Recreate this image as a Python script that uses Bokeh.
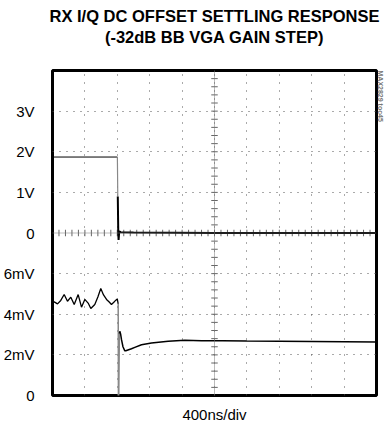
import numpy as np
from bokeh.plotting import figure
from bokeh.models import Range1d, LinearAxis, FixedTicker, Grid, Span, Title
from bokeh.embed import file_html
from bokeh.resources import INLINE

# ---------------- data ----------------
title_line1 = "RX I/Q DC OFFSET SETTLING RESPONSE"
title_line2 = "(-32dB BB VGA GAIN STEP)"
x_label = "400ns/div"
watermark = "MAX2829 toc45"

y_tick_pos = [0, 1, 2, 3, 4, 5, 6, 7]          # screen divisions
y_tick_labels = ["0", "2mV", "4mV", "6mV", "0", "1V", "2V", "3V"]
x_grid_ns = [400, 800, 1200, 1600, 2000, 2400, 2800, 3200, 3600]
y_grid_div = [1, 2, 3, 5, 6, 7]

# upper trace: gain-step control (V), time in ns
ctl_t_high = [0, 799]
ctl_v_high = [1.87, 1.87]
ctl_t_edge = [799, 801, 806]
ctl_v_edge = [1.87, 1.87, 0.90]
ctl_t_low = [806, 812, 816, 824, 840, 1000, 2000, 3000, 4000]
ctl_v_low = [0.90, 0.00, -0.17, 0.04, 0.02, 0.01, 0.00, 0.00, 0.00]

# lower trace: DC offset (mV)
dc_t_pre = [0, 21, 62, 102, 144, 185, 226, 268, 317, 358, 399, 440, 473, 522,
            560, 596, 630, 667, 700, 728, 760, 778, 800, 811]
dc_mv_pre = [4.55, 4.61, 4.51, 4.68, 4.97, 4.64, 4.84, 4.48, 4.97, 4.35, 4.73, 4.55,
             4.28, 4.48, 4.85, 5.27, 4.95, 4.73, 4.60, 4.48, 4.60, 4.68, 4.75, 4.51]
dc_t_edge = [811, 814, 818, 826]
dc_mv_edge = [4.51, 0.0, 0.0, 3.05]
dc_t_post = [826, 831, 842, 852, 870, 893, 905, 940, 975, 1016, 1099, 1222, 1428,
             1633, 1840, 2100, 2400, 2800, 3200, 3600, 4000]
dc_mv_post = [3.05, 3.16, 3.00, 2.75, 2.40, 2.20, 2.20, 2.25, 2.30, 2.37, 2.50, 2.58,
              2.67, 2.72, 2.70, 2.69, 2.68, 2.67, 2.66, 2.65, 2.64]

# ---------------- figure ----------------
FONT = "Liberation Sans"

p = figure(width=385, height=427, output_backend="svg", toolbar_location=None,
           x_range=Range1d(0, 4000), y_range=Range1d(0, 8),
           x_axis_type=None, y_axis_type=None,
           min_border_left=51, min_border_right=9, min_border_top=70, min_border_bottom=32)
p.extra_y_ranges = {"volts": Range1d(-4, 4), "mv": Range1d(0, 16)}
p.outline_line_color = "black"
p.outline_line_width = 3
p.background_fill_color = "white"
p.border_fill_color = "white"


def label_axis(text, standoff, size, style):
    a = LinearAxis(ticker=FixedTicker(ticks=[]), axis_label=text)
    a.axis_line_color = None
    a.major_tick_line_color = None
    a.minor_tick_line_color = None
    a.major_tick_out = 0
    a.major_tick_in = 0
    a.major_label_standoff = 0
    a.major_label_text_font_size = "0px"
    a.axis_label_standoff = standoff
    a.axis_label_text_font = FONT
    a.axis_label_text_font_size = size
    a.axis_label_text_font_style = style
    a.axis_label_text_color = "black"
    return a


# left tick labels
ax = LinearAxis(ticker=FixedTicker(ticks=y_tick_pos),
                major_label_overrides={t: l for t, l in zip(y_tick_pos, y_tick_labels)})
ax.axis_line_color = None
ax.major_tick_line_color = None
ax.minor_tick_line_color = None
ax.major_label_standoff = 12
ax.major_label_text_font = FONT
ax.major_label_text_font_size = "15px"
ax.major_label_text_color = "black"
p.add_layout(ax, "left")

# bottom label
p.add_layout(label_axis(x_label, 10, "15px", "normal"), "below")

# two title lines as label-only axes above (first added sits closest to the plot)
p.add_layout(label_axis(title_line2, 25, "16.5px", "bold"), "above")
p.add_layout(label_axis(title_line1, 0, "16.5px", "bold"), "above")

p.add_layout(Title(text=watermark, align="left", text_font=FONT,
                   text_font_size="7px", text_color="#777777", standoff=0), "right")

# dotted grid
gx = Grid(dimension=0, ticker=FixedTicker(ticks=x_grid_ns),
          grid_line_color="#555555", grid_line_dash="1 7", grid_line_width=1)
gy = Grid(dimension=1, ticker=FixedTicker(ticks=y_grid_div),
          grid_line_color="#555555", grid_line_dash="1 6", grid_line_width=1)
p.add_layout(gx)
p.add_layout(gy)

# centre crosshair with minor ticks
p.add_layout(Span(location=2000, dimension="height", line_color="#777777",
                  line_dash="1 1", line_width=1))
p.add_layout(Span(location=4, dimension="width", line_color="#777777",
                  line_dash="1 1", line_width=1))
yt = np.arange(0.2, 8.0, 0.2)
p.segment(x0=2000 - 40, x1=2000 + 40, y0=yt, y1=yt, line_color="#666666", line_width=1)
xt = np.arange(80, 4000, 80)
p.segment(x0=xt, x1=xt, y0=4 - 0.08, y1=4 + 0.08, line_color="#666666", line_width=1)

# traces
p.line(ctl_t_high, ctl_v_high, y_range_name="volts", line_color="black", line_width=1)
p.line(ctl_t_edge, ctl_v_edge, y_range_name="volts", line_color="#888888", line_width=1.2)
p.line(ctl_t_low, ctl_v_low, y_range_name="volts", line_color="black", line_width=2)

p.line(dc_t_pre, dc_mv_pre, y_range_name="mv", line_color="black", line_width=1.3)
p.line(dc_t_edge, dc_mv_edge, y_range_name="mv", line_color="#888888", line_width=1.5)
p.line(dc_t_post, dc_mv_post, y_range_name="mv", line_color="black", line_width=1.5)

open("out.html", "w").write(file_html(p, INLINE))
